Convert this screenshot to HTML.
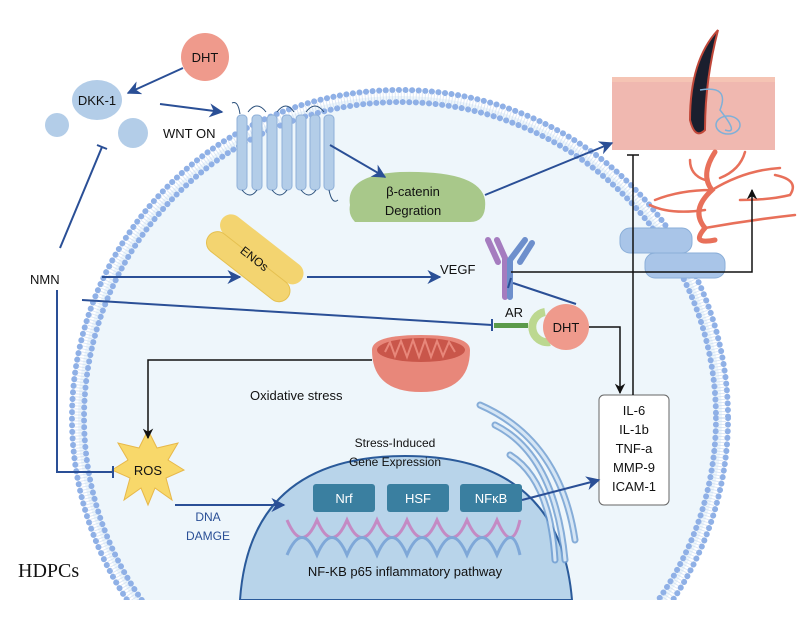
<!DOCTYPE html>
<html><head><meta charset="utf-8"><style>
html,body{margin:0;padding:0;background:#fff;width:802px;height:631px;overflow:hidden}
svg{display:block}
text{font-family:"Liberation Sans",sans-serif;fill:#111}
</style></head><body>
<svg width="802" height="631" viewBox="0 0 802 631" xmlns="http://www.w3.org/2000/svg">
<defs>
<marker id="ab" viewBox="0 0 10 10" refX="9" refY="5" markerWidth="7" markerHeight="7" orient="auto"><path d="M0,0 L10,5 L0,10 L3,5z" fill="#2a4f96"/></marker>
<marker id="ak" viewBox="0 0 10 10" refX="9" refY="5" markerWidth="7" markerHeight="7" orient="auto"><path d="M0,0 L10,5 L0,10 L3,5z" fill="#111"/></marker>
<clipPath id="cp"><rect x="0" y="0" width="802" height="600"/></clipPath>
</defs>
<g clip-path="url(#cp)">
<circle cx="400" cy="418" r="322" fill="#eef6fb"/>
<circle cx="400" cy="418" r="328" fill="none" stroke="#8fb0e6" stroke-width="6" stroke-dasharray="0.1 6.5" stroke-linecap="round"/>
<circle cx="400" cy="418" r="316" fill="none" stroke="#8fb0e6" stroke-width="6" stroke-dasharray="0.1 6.5" stroke-linecap="round"/>
<circle cx="400" cy="418" r="322" fill="none" stroke="#c8d8f0" stroke-width="8" stroke-dasharray="1 2" opacity="0.6"/>
<path d="M240,600 Q250,456 405,456 Q560,456 572,600 Z" fill="#b8d4ea" stroke="#2a5a9a" stroke-width="2"/>
</g>
<!-- ER -->
<g fill="none" stroke="#6d9bd0" stroke-width="7" stroke-linecap="round" opacity="0.8">
<path d="M480,405 Q560,440 575,540"/><path d="M495,425 Q555,455 565,560"/><path d="M510,455 Q550,480 555,560"/>
</g>
<g fill="none" stroke="#d6e6f5" stroke-width="3" stroke-linecap="round">
<path d="M480,405 Q560,440 575,540"/><path d="M495,425 Q555,455 565,560"/><path d="M510,455 Q550,480 555,560"/>
</g>
<!-- skin -->
<rect x="612" y="77" width="163" height="73" fill="#f0b8b0"/>
<rect x="612" y="77" width="163" height="5" fill="#f5c4b4"/>
<path d="M718,30 Q690,60 690,120 Q695,140 705,130 Q705,80 718,30z" fill="#1a1f2e" stroke="#c0483a" stroke-width="2"/>
<path d="M700,90 Q730,85 720,110 Q740,135 725,130" fill="none" stroke="#7fb0d8" stroke-width="1.5"/>
<ellipse cx="728" cy="125" rx="12" ry="9" fill="none" stroke="#7fb0d8" stroke-width="1.5"/>
<!-- vessels -->
<g fill="none" stroke="#e8705a" stroke-linecap="round">
<path d="M715,152 Q700,175 712,190 Q690,210 705,228 Q690,245 715,240" stroke-width="5"/>
<path d="M712,190 Q745,170 780,168 M705,228 Q750,220 795,215 M712,190 Q680,190 655,200 M705,210 Q670,215 650,205 M690,160 Q690,175 705,180 M745,152 Q740,170 720,178 M775,175 Q800,180 790,195 Q770,200 740,200" stroke-width="2.5"/>
</g>
<!-- tight junction -->
<g fill="#a9c5e8" stroke="#8aaed8">
<rect x="620" y="228" width="72" height="25" rx="10"/>
<rect x="645" y="253" width="80" height="25" rx="10"/>
</g>
<!-- receptor 7TM -->
<g fill="#b3cde8" stroke="#8fb0d8">
<rect x="237" y="115" width="10" height="75" rx="4"/><rect x="252" y="115" width="10" height="75" rx="4"/>
<rect x="267" y="115" width="10" height="75" rx="4"/><rect x="282" y="115" width="10" height="75" rx="4"/>
<rect x="296" y="115" width="10" height="75" rx="4"/><rect x="310" y="115" width="10" height="75" rx="4"/>
<rect x="324" y="115" width="10" height="75" rx="4"/>
</g>
<path d="M232,103 Q238,100 240,114 M248,112 Q257,100 266,112 M277,112 Q286,100 294,112 M306,112 Q315,100 324,112" fill="none" stroke="#2a4f7a" stroke-width="1"/>
<path d="M242,190 Q250,200 257,190 M272,190 Q280,200 287,190 M301,190 Q309,200 316,190 M329,190 Q332,205 338,200" fill="none" stroke="#2a4f7a" stroke-width="1"/>
<!-- beta catenin -->
<path d="M350,205 Q345,175 400,172 Q480,170 485,200 Q487,222 470,222 L355,222 Q348,215 350,205z" fill="#a8c88a"/>
<text x="413" y="196" font-size="13" text-anchor="middle">β-catenin</text>
<text x="413" y="215" font-size="13" text-anchor="middle">Degration</text>
<!-- DHT top -->
<circle cx="205" cy="57" r="24" fill="#ef9a8c"/>
<text x="205" y="62" font-size="13" text-anchor="middle">DHT</text>
<ellipse cx="97" cy="100" rx="25" ry="20" fill="#b3cde8"/>
<text x="97" y="105" font-size="13" text-anchor="middle">DKK-1</text>
<circle cx="57" cy="125" r="12" fill="#b3cde8"/>
<circle cx="133" cy="133" r="15" fill="#b3cde8"/>
<text x="163" y="138" font-size="13">WNT ON</text>
<!-- ENOs -->
<g transform="translate(255,258) rotate(38)">
<rect x="-50" y="-22" width="100" height="22" rx="11" fill="#f3d470"/>
<rect x="-50" y="0" width="100" height="22" rx="11" fill="#f3d470" stroke="#e5c050"/>
<text x="0" y="5" font-size="12" text-anchor="middle">ENOs</text>
</g>
<!-- VEGF receptors -->
<path d="M497,240 L505,258 L505,297 M488,240 L498,262" stroke="#a57cbf" stroke-width="6" fill="none" stroke-linecap="round"/>
<path d="M525,240 L510,260 L510,297 M532,243 L520,262" stroke="#6d8fcc" stroke-width="6" fill="none" stroke-linecap="round"/>
<text x="440" y="274" font-size="13">VEGF</text>
<!-- AR / DHT -->
<text x="505" y="317" font-size="13">AR</text>
<rect x="494" y="323" width="34" height="5" fill="#5a9a4a"/>
<path d="M545,312 A15,15 0 1,0 550,342" fill="none" stroke="#bcd890" stroke-width="8"/>
<circle cx="566" cy="327" r="23" fill="#ef9a8c"/>
<text x="566" y="332" font-size="13" text-anchor="middle">DHT</text>
<!-- mitochondria -->
<path d="M372,350 Q372,335 421,335 Q470,335 470,350 Q470,392 421,392 Q372,392 372,350z" fill="#e8877a"/>
<ellipse cx="421" cy="350" rx="44" ry="12" fill="#c9564a"/>
<path d="M385,352 L390,342 L395,356 L401,341 L407,357 L413,340 L419,357 L425,340 L431,357 L437,341 L443,356 L449,342 L455,352" fill="none" stroke="#e8877a" stroke-width="2"/>
<text x="250" y="400" font-size="13">Oxidative stress</text>
<!-- ROS star -->
<polygon points="148,430 157,448 178,443 168,460 184,470 166,478 172,500 155,488 148,505 141,488 124,500 130,478 112,470 128,460 118,443 139,448" fill="#f8d86a" stroke="#e7b84a"/>
<text x="148" y="475" font-size="13" text-anchor="middle">ROS</text>
<text x="208" y="521" font-size="12" text-anchor="middle" style="fill:#2a4f96">DNA</text>
<text x="208" y="540" font-size="12" text-anchor="middle" style="fill:#2a4f96">DAMGE</text>
<!-- nucleus contents -->
<text x="395" y="447" font-size="12" text-anchor="middle">Stress-Induced</text>
<text x="395" y="466" font-size="12" text-anchor="middle">Gene Expression</text>
<rect x="313" y="484" width="62" height="28" rx="3" fill="#3a7fa0"/><text x="344" y="503" font-size="13" text-anchor="middle" style="fill:#fff">Nrf</text>
<rect x="387" y="484" width="62" height="28" rx="3" fill="#3a7fa0"/><text x="418" y="503" font-size="13" text-anchor="middle" style="fill:#fff">HSF</text>
<rect x="460" y="484" width="62" height="28" rx="3" fill="#3a7fa0"/><text x="491" y="503" font-size="13" text-anchor="middle" style="fill:#fff">NFκB</text>
<g fill="none" stroke-width="3">
<path d="M287,520 Q302,555 317,520 Q332,555 347,520 Q362,555 377,520 Q392,555 407,520 Q422,555 437,520 Q452,555 467,520 Q482,555 497,520 Q512,555 520,520" stroke="#c48ac4"/>
<path d="M287,555 Q302,520 317,555 Q332,520 347,555 Q362,520 377,555 Q392,520 407,555 Q422,520 437,555 Q452,520 467,555 Q482,520 497,555 Q512,520 520,555" stroke="#7fa8d8"/>
</g>
<text x="405" y="576" font-size="13" text-anchor="middle">NF-KB p65 inflammatory pathway</text>
<!-- cytokine box -->
<rect x="599" y="395" width="70" height="110" rx="5" fill="#fff" stroke="#666"/>
<g font-size="13" text-anchor="middle"><text x="634" y="415">IL-6</text><text x="634" y="434">IL-1b</text><text x="634" y="453">TNF-a</text><text x="634" y="472">MMP-9</text><text x="634" y="491">ICAM-1</text></g>
<text x="30" y="284" font-size="13">NMN</text>
<text x="18" y="577" font-size="20" style="font-family:'Liberation Serif',serif">HDPCs</text>
<!-- connectors -->
<g fill="none" stroke="#2a4f96" stroke-width="2">
<path d="M183,68 L128,93" marker-end="url(#ab)"/>
<path d="M160,104 L222,112" marker-end="url(#ab)"/>
<path d="M330,145 L385,177" marker-end="url(#ab)"/>
<path d="M485,195 L612,143" marker-end="url(#ab)"/>
<path d="M60,248 L102,147"/><path d="M97,145 L107,149"/>
<path d="M102,277 L240,277" marker-end="url(#ab)"/>
<path d="M307,277 L440,277" marker-end="url(#ab)"/>
<path d="M82,300 L492,325"/><path d="M492,319 L492,331"/>
<path d="M576,304 L513,283"/><path d="M511,278 L508,288"/>
<path d="M57,290 L57,472 L113,472"/><path d="M113,466 L113,478"/>
<path d="M175,505 L284,505" marker-end="url(#ab)"/>
<path d="M522,500 L599,480" marker-end="url(#ab)"/>
</g>
<g fill="none" stroke="#111" stroke-width="1.5">
<path d="M511,272 L752,272 L752,190" marker-end="url(#ak)"/>
<path d="M633,395 L633,155"/><path d="M627,155 L639,155"/>
<path d="M589,327 L620,327 L620,393" marker-end="url(#ak)"/>
<path d="M372,360 L148,360 L148,438" marker-end="url(#ak)"/>
</g>
</svg>
</body></html>
